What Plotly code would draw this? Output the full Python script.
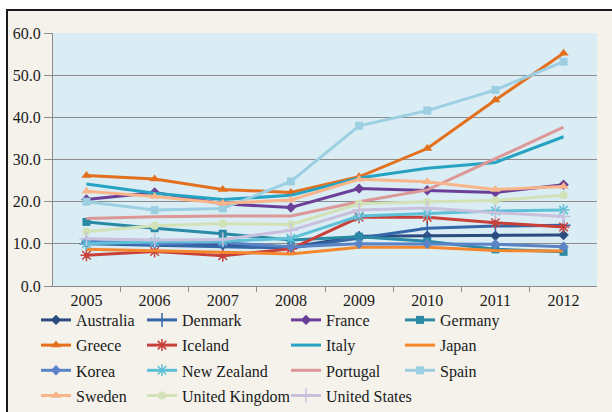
import plotly.graph_objects as go

years = ["2005", "2006", "2007", "2008", "2009", "2010", "2011", "2012"]

australia = [10.3, 10.1, 9.7, 9.2, 11.8, 11.9, 11.9, 12.1]
denmark = [10.0, 9.6, 9.3, 9.0, 11.3, 13.7, 14.2, 14.4]
france = [20.5, 22.2, 19.5, 18.6, 23.1, 22.7, 22.2, 24.0]
germany = [15.2, 13.7, 12.4, 10.9, 11.7, 10.6, 8.7, 8.1]
greece = [26.2, 25.4, 22.9, 22.2, 25.9, 32.6, 44.1, 55.2]
iceland = [7.3, 8.2, 7.2, 8.8, 16.3, 16.3, 15.0, 14.0]
italy = [24.2, 22.0, 20.5, 21.5, 25.6, 27.9, 29.3, 35.4]
japan = [8.7, 8.4, 8.0, 7.6, 9.2, 9.2, 8.4, 8.3]
korea = [10.6, 10.1, 10.3, 9.3, 10.0, 10.0, 9.9, 9.3]
new_zealand = [10.0, 10.5, 10.6, 11.3, 16.6, 17.2, 17.8, 18.0]
portugal = [16.0, 16.4, 16.6, 16.6, 20.0, 22.8, 30.2, 37.7]
spain = [20.0, 18.0, 18.4, 24.8, 38.0, 41.6, 46.5, 53.2]
sweden = [22.5, 21.2, 19.6, 20.4, 25.3, 24.7, 22.9, 23.6]
united_kingdom = [12.9, 14.3, 14.8, 14.6, 19.5, 20.0, 20.3, 21.5]
united_states = [11.2, 10.9, 11.0, 13.2, 18.0, 18.5, 17.4, 16.5]

# name, values, color, symbol, legend
series = [
    ("Australia", australia, "#2a4c80", "diamond", "legend"),
    ("Greece", greece, "#e2701e", "triangle-up", "legend"),
    ("Korea", korea, "#5a84c6", "diamond", "legend"),
    ("Sweden", sweden, "#f9b58a", "triangle-up", "legend"),
    ("Denmark", denmark, "#3566a8", "cross-thin-open", "legend2"),
    ("Iceland", iceland, "#c8403a", "asterisk-open", "legend2"),
    ("New Zealand", new_zealand, "#5ec0d6", "asterisk-open", "legend2"),
    ("United Kingdom", united_kingdom, "#d2e2b6", "circle", "legend2"),
    ("France", france, "#6b3f98", "diamond", "legend3"),
    ("Italy", italy, "#26a2c2", None, "legend3"),
    ("Portugal", portugal, "#dc9797", None, "legend3"),
    ("United States", united_states, "#c9c0de", "cross-thin-open", "legend3"),
    ("Germany", germany, "#2a8aa6", "square", "legend4"),
    ("Japan", japan, "#f5882e", None, "legend4"),
    ("Spain", spain, "#9ccfe2", "square", "legend4"),
]

order = ["Australia", "Denmark", "France", "Germany", "Greece", "Iceland", "Italy",
         "Japan", "Korea", "New Zealand", "Portugal", "Spain", "Sweden",
         "United Kingdom", "United States"]
draw = sorted(series, key=lambda s: order.index(s[0]))

fig = go.Figure()
for name, vals, color, sym, leg in draw:
    if sym is None:
        mode = "lines"
        marker = dict()
    elif sym in ("cross-thin-open", "asterisk-open"):
        mode = "lines+markers"
        marker = dict(symbol=sym, size=10, color=color, line=dict(color=color, width=1.5))
    else:
        mode = "lines+markers"
        sz = 9 if sym == "triangle-up" else 8
        marker = dict(symbol=sym, size=sz, color=color, line=dict(width=0))
    fig.add_trace(go.Scatter(
        x=years, y=vals, name=name, mode=mode, marker=marker,
        line=dict(color=color, width=3), legend=leg, legendgroup=name,
    ))

L, R, T, B = 53, 597, 33, 286
W, H = 612, 412
pw, ph = R - L, B - T

def px(xp):
    return (xp - L) / pw

def py(yp):
    return (B - yp) / ph

font = dict(family="Liberation Serif", size=16, color="#1a1a1a")
leg_common = dict(font=font, bgcolor="rgba(0,0,0,0)", orientation="v",
                  xanchor="left", yanchor="top", tracegroupgap=1.4, y=py(303),
                  itemwidth=30)

fig.update_layout(
    width=W, height=H,
    margin=dict(l=L, r=W - R, t=T, b=H - B, autoexpand=False),
    paper_bgcolor="white",
    plot_bgcolor="rgba(0,0,0,0)",
    font=font,
    legend=dict(x=px(36), **leg_common),
    legend2=dict(x=px(142), **leg_common),
    legend3=dict(x=px(286), **leg_common),
    legend4=dict(x=px(400), **leg_common),
    xaxis=dict(type="category", showgrid=False, showline=True, linecolor="#8c8c8c",
               linewidth=1, ticks="outside", tickson="boundaries", ticklen=5,
               tickcolor="#8c8c8c", tickfont=font),
    yaxis=dict(range=[0, 60], dtick=10, tickformat=".1f", showgrid=True,
               gridcolor="#8c8c8c", gridwidth=1, showline=True, linecolor="#8c8c8c",
               ticks="outside", ticklen=8, tickcolor="#8c8c8c", zeroline=False,
               tickfont=font),
    shapes=[
        dict(type="rect", xref="paper", yref="paper", layer="below",
             x0=px(7), x1=px(640), y0=py(440), y1=py(10),
             fillcolor="#f4f2eb", line=dict(color="#1a1a1a", width=2)),
        dict(type="rect", xref="paper", yref="paper", layer="below",
             x0=0, x1=1, y0=0, y1=1, fillcolor="#dbedf4", line=dict(width=0)),
    ],
)

fig.write_html("out.html", config={"displayModeBar": False},
               post_script="document.body.style.margin='0px';")
